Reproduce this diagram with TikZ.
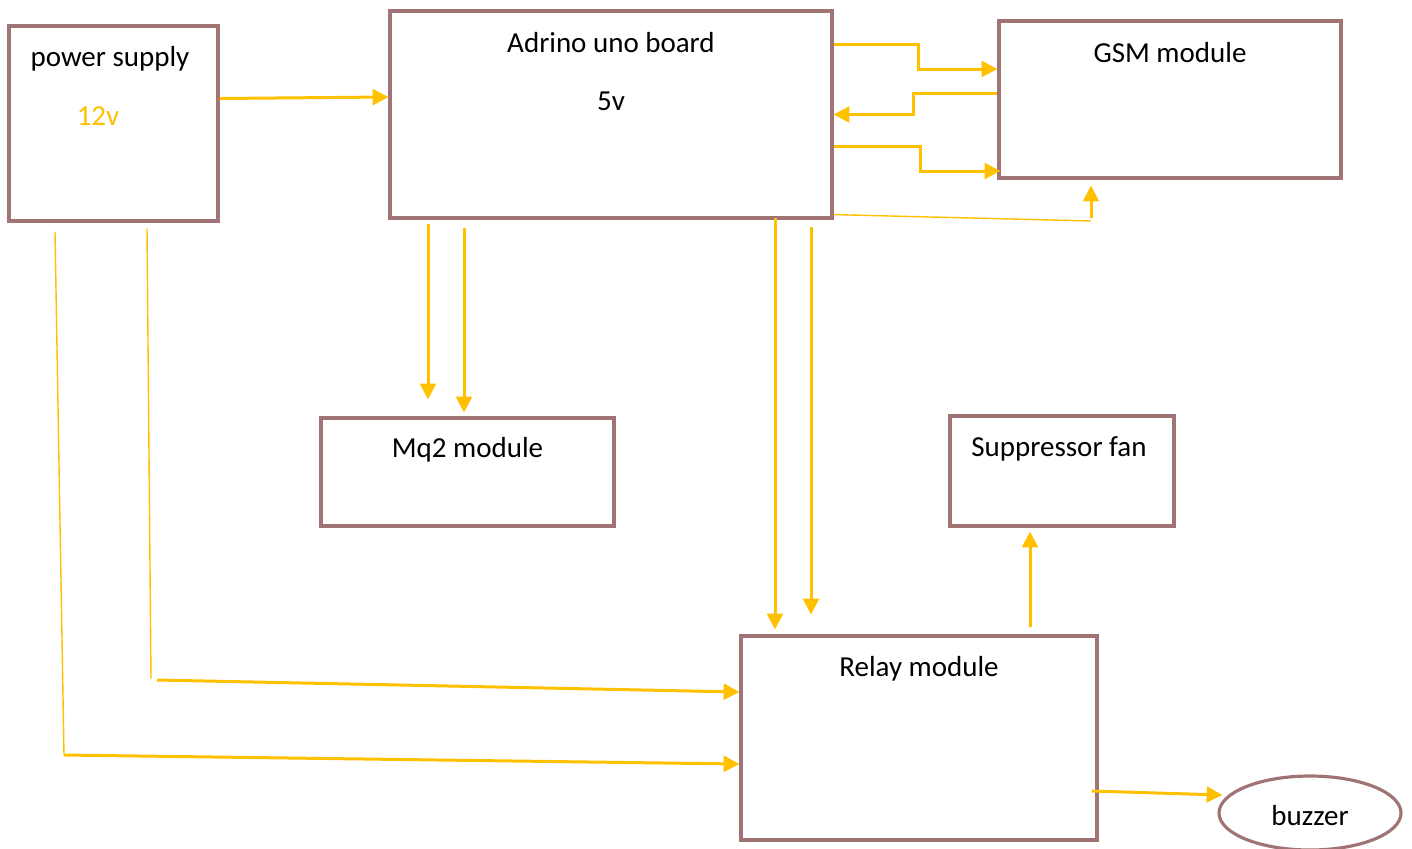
\documentclass[tikz,border=0pt]{standalone}
\usepackage{fontspec}
\setmainfont{Carlito}
\usepackage{xcolor}
\usetikzlibrary{arrows.meta,calc,positioning,shapes.geometric}
\definecolor{boxBrown}{HTML}{A07474}
\definecolor{wireYellow}{HTML}{FFC000}

\begin{document}
\begin{tikzpicture}

\tikzset{blockBox/.style={draw=boxBrown, line width=1.8pt, minimum width=#1, inner sep=0pt},
blockText/.style={font=\fontsize{16.5}{19}\selectfont, inner sep=0pt},
yArrow/.style={draw=wireYellow, line width=1.7pt, -{Triangle[length=9pt,width=9pt]}},
yLine/.style={draw=wireYellow, line width=0.8pt}}

\useasboundingbox (0,0) rectangle (28.24,-16.96);

% the blocks
\node[blockBox=4.18cm, minimum height=3.9cm] (ps) at (2.27,-2.47) {};
\node[blockBox=8.84cm, minimum height=4.14cm] (ard) at (12.22,-2.29) {};
\node[blockBox=6.84cm, minimum height=3.14cm] (gsm) at (23.4,-1.99) {};
\node[blockBox=5.86cm, minimum height=2.16cm] (mq) at (9.35,-9.44) {};
\node[blockBox=4.48cm, minimum height=2.2cm] (fan) at (21.24,-9.42) {};
\node[blockBox=7.12cm, minimum height=4.08cm] (relay) at (18.38,-14.76) {};
\node[ellipse, draw=boxBrown, line width=1.8pt, minimum width=3.64cm, minimum height=1.48cm, inner sep=0pt] (bz) at (26.2,-16.26) {};

% the texts
\node[blockText] (psText) at ($(ps.north)+(-0.07,-0.68)$) {power supply};
\node[blockText, text=wireYellow] (psVolt) at (1.96,-2.33) {12v};
\node[blockText] (ardText) at ($(ard.north)+(0,-0.66)$) {Adrino uno board};
\node[blockText] (ardVolt) at ($(ard.north)+(0,-1.84)$) {5v};
\node[blockText] (gsmText) at ($(gsm.north)+(0,-0.66)$) {GSM module};
\node[blockText] (mqText) at ($(mq.north)+(0,-0.66)$) {Mq2 module};
\node[blockText] (fanText) at ($(fan.north)+(-0.06,-0.68)$) {Suppressor fan};
\node[blockText] (relayText) at ($(relay.north)+(0,-0.68)$) {Relay module};
\node[blockText] (bzText) at ([yshift=-0.06cm]bz.center) {buzzer};

% power supply to board
\draw[yArrow] ([yshift=0.5cm]ps.east) -- ([yshift=0.35cm]ard.west);

% board and gsm
\draw[yArrow] ([yshift=1.41cm]ard.east) -- ++(1.7,0) |- ([yshift=0.61cm]gsm.west);
\draw[yArrow] ([yshift=0.13cm]gsm.west) -- ++(-1.68,0) |- (ard.east);
\draw[yArrow] ([yshift=-0.63cm]ard.east) -- ++(1.74,0) |- ([xshift=0.06cm,yshift=-1.43cm]gsm.west);
\coordinate (g1) at (21.82,-4.42);
\draw[yLine] ([yshift=0.1cm]ard.south east) -- (g1);
\draw[yArrow, shorten >=0.12cm] ([yshift=0.06cm]g1) -- (g1 |- gsm.south);

% board to mq2
\coordinate (a1) at ([xshift=-3.66cm]ard.south);
\coordinate (a2) at ([xshift=-2.94cm]ard.south);
\draw[yArrow, shorten <=0.08cm, shorten >=0.34cm] (a1) -- (a1 |- mq.north);
\draw[yArrow, shorten <=0.16cm, shorten >=0.08cm] (a2) -- (a2 |- mq.north);

% board to relay
\coordinate (a3) at ([xshift=3.28cm]ard.south);
\coordinate (a4) at ([xshift=4.0cm]ard.south);
\draw[yArrow, shorten <=-0.04cm, shorten >=0.1cm] (a3) -- (a3 |- relay.north);
\draw[yArrow, shorten <=0.14cm, shorten >=0.4cm] (a4) -- (a4 |- relay.north);

% power supply to relay
\coordinate (p1) at ([xshift=-1.17cm,yshift=-0.18cm]ps.south);
\coordinate (p2) at (1.28,-15.1);
\draw[yLine] (p1) -- (p2);
\draw[yArrow] (p2) -- ([yshift=-0.52cm]relay.west);
\coordinate (p3) at ([xshift=0.67cm,yshift=-0.12cm]ps.south);
\coordinate (p4) at (3.02,-13.58);
\draw[yLine] (p3) -- (p4);
\draw[yArrow] ([xshift=0.12cm,yshift=-0.02cm]p4) -- ([yshift=0.92cm]relay.west);

% relay to fan and buzzer
\coordinate (r1) at ([xshift=2.22cm,yshift=0.14cm]relay.north);
\draw[yArrow, shorten >=0.08cm] (r1) -- (r1 |- fan.south);
\draw[yArrow] ([xshift=-0.14cm,yshift=-1.06cm]relay.east) -- ([xshift=0.1cm,yshift=0.36cm]bz.west);

\end{tikzpicture}
\end{document}
